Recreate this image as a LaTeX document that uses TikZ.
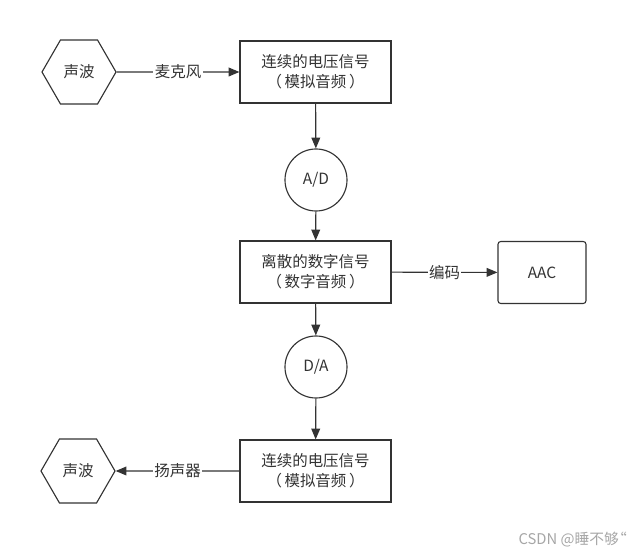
\documentclass[tikz,border=0pt]{standalone}
\usepackage{fontspec}
\setmainfont{Noto Sans CJK SC}
\usepackage{tikz}
\usetikzlibrary{positioning, shapes.geometric, arrows.meta}
\definecolor{ink}{HTML}{333333}

\begin{document}
\begin{tikzpicture}[x=0.025cm, y=-0.025cm,
    font=\fontsize{11}{14}\selectfont,
    box/.style={draw=ink, line width=0.8pt, minimum width=3.775cm, minimum height=1.55cm, inner sep=0pt, align=center, text=ink}, % 矩形
    hexa/.style={draw=ink, line width=0.8pt, regular polygon, regular polygon sides=6, minimum size=1.85cm, inner sep=0pt, text=ink},
    conv/.style={draw=ink, line width=0.8pt, circle, minimum size=1.55cm, inner sep=0pt, text=ink},
    lab/.style={fill=white, inner sep=1pt, text=ink},
    arr/.style={draw=ink, line width=0.8pt, -{Triangle[length=2.7mm, width=2.2mm]}}
    ]
\useasboundingbox (0,0) rectangle (640,556);

\node[hexa] (w1) at (79,72) {声波};
\node[box] (v1) at (315.5,72) {连续的电压信号\\（\,模拟音频\,）};
\node[conv] (ad) at (316,180) {A/D};
\node[box] (d) at (315.5,272) {离散的数字信号\\（\,数字音频\,）};
\node[box, rounded corners=2pt, minimum width=2.2cm] (aac) at (542,272.5) {AAC};
\node[conv] (da) at (316,367) {D/A};
\node[box] (v2) at (315.5,471) {连续的电压信号\\（\,模拟音频\,）};
\node[hexa] (w2) at (78,471) {声波};

\draw[arr] (w1) -- node[lab] {麦克风} (v1);
\draw[arr] (v1) -- (ad);
\draw[arr] (ad) -- (d);
\draw[arr] (d) -- node[lab] {编码} (aac);
\draw[arr] (d) -- (da);
\draw[arr] (da) -- (v2);
\draw[arr] (v2) -- node[lab] {扬声器} (w2);

\node[anchor=east, text=gray!70, font=\fontsize{10.5}{12}\selectfont] (mark) at (626,540) {CSDN @睡不够\kern-0.45em“\kern-0.4em};
\end{tikzpicture}
\end{document}
